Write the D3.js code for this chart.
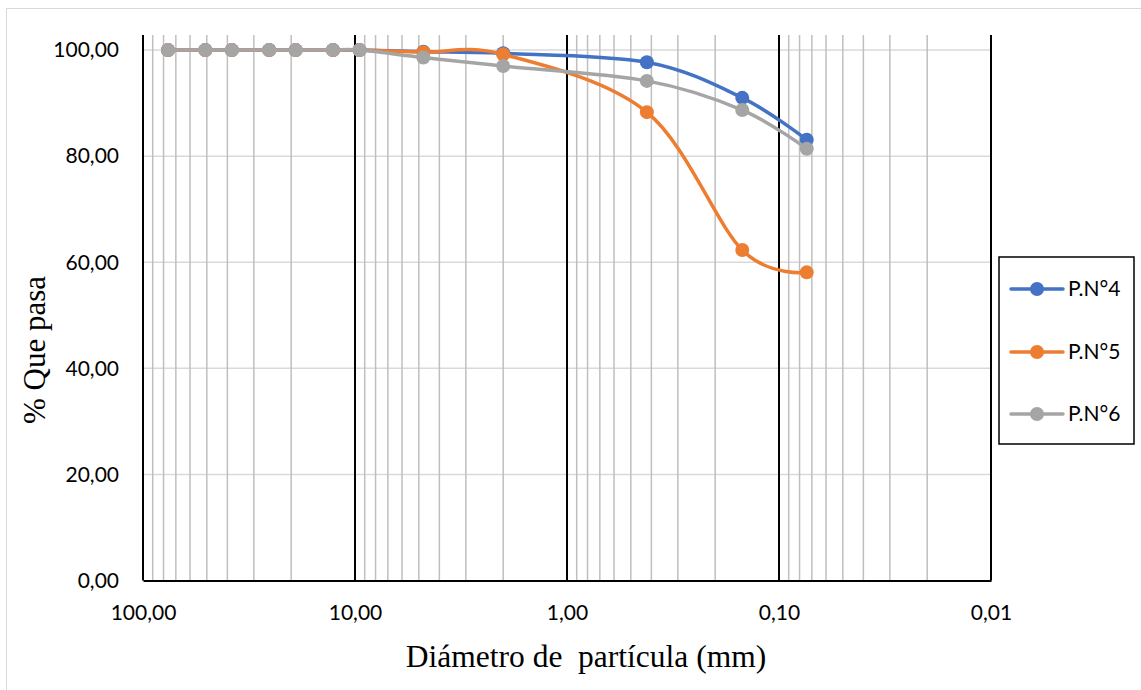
<!DOCTYPE html>
<html>
<head>
<meta charset="utf-8">
<script src="https://cdn.jsdelivr.net/npm/d3@7"></script>
<style>
  body { margin: 0; background: #fff; }
  svg { display: block; }
</style>
</head>
<body>
<svg id="drawing_region"></svg>
<script>
// tamices (mm)
const sizes = [76.2, 50.8, 38.1, 25.4, 19.05, 12.7, 9.525, 4.76, 2.0, 0.42, 0.149, 0.074];
const pn4 = [100, 100, 100, 100, 100, 100, 100, 99.7, 99.4, 97.7, 91.0, 83.1];
const pn5 = [100, 100, 100, 100, 100, 100, 100, 99.6, 99.2, 88.3, 62.3, 58.1];
const pn6 = [100, 100, 100, 100, 100, 100, 100, 98.6, 97.0, 94.2, 88.7, 81.4];
const seriesNames = ["P.N°4", "P.N°5", "P.N°6"];
const colors = ["#4472C4", "#ED7D31", "#A5A5A5"];
const xTicks = [100, 10, 1, 0.1, 0.01];
const yTicks = [0, 20, 40, 60, 80, 100];

const W = 1141, H = 690;
const svg = d3.select("#drawing_region").attr("width", W).attr("height", H);

const locale = d3.formatLocale({decimal: ",", thousands: ".", grouping: [3], currency: ["", ""]});
const fmt = locale.format(".2f");

const x = d3.scaleLog().domain([100, 0.01]).range([143, 991]);
const y = d3.scaleLinear().domain([0, 102.85]).range([580.5, 35]);

// marco exterior
svg.append("rect")
  .attr("x", 6.5).attr("y", 8.5).attr("width", 1300).attr("height", 900)
  .attr("fill", "none").attr("stroke", "#d9d9d9").attr("stroke-width", 1);

// rejilla horizontal
svg.append("g").selectAll("line")
  .data(yTicks.filter(d => d > 0))
  .join("line")
  .attr("x1", x(100)).attr("x2", x(0.01))
  .attr("y1", d => y(d)).attr("y2", d => y(d))
  .attr("stroke", "#d9d9d9").attr("stroke-width", 1.5);

// rejilla vertical menor
const minor = [];
[10, 1, 0.1, 0.01].forEach(dec => {
  for (let k = 2; k <= 9; k++) minor.push(dec * k);
});
svg.append("g").selectAll("line")
  .data(minor)
  .join("line")
  .attr("x1", d => x(d)).attr("x2", d => x(d))
  .attr("y1", y.range()[1]).attr("y2", y(0))
  .attr("stroke", "#bfbfbf").attr("stroke-width", 1.5);

// rejilla vertical mayor
svg.append("g").selectAll("line")
  .data(xTicks)
  .join("line")
  .attr("x1", d => x(d)).attr("x2", d => x(d))
  .attr("y1", y.range()[1]).attr("y2", y(0))
  .attr("stroke", "#000").attr("stroke-width", 2);

// eje x
const xAxis = d3.axisBottom(x).tickValues(xTicks).tickFormat(fmt).tickSize(0).tickPadding(25);
const gx = svg.append("g").attr("transform", `translate(0,${y(0)})`).call(xAxis);
gx.select(".domain").attr("stroke", "#000").attr("stroke-width", 2);
gx.selectAll("text").attr("font-family", "Lato, sans-serif").attr("font-size", 21).attr("fill", "#000");

// eje y
const yAxis = d3.axisLeft(y).tickValues(yTicks).tickFormat(fmt).tickSize(0).tickPadding(24);
const gy = svg.append("g").attr("transform", `translate(${x(100)},0)`).call(yAxis);
gy.select(".domain").remove();
gy.selectAll("text").attr("font-family", "Lato, sans-serif").attr("font-size", 21).attr("fill", "#000");

// series
const allSeries = [pn4, pn5, pn6];
const line = d3.line()
  .x(d => x(d[0])).y(d => y(d[1]))
  .curve(d3.curveCatmullRom.alpha(0));

allSeries.forEach((vals, i) => {
  const pts = sizes.map((s, j) => [s, vals[j]]);
  const g = svg.append("g");
  g.append("path")
    .attr("d", line(pts))
    .attr("fill", "none").attr("stroke", colors[i]).attr("stroke-width", 3.5)
    .attr("stroke-linejoin", "round").attr("stroke-linecap", "round");
  g.selectAll("circle")
    .data(pts)
    .join("circle")
    .attr("cx", d => x(d[0])).attr("cy", d => y(d[1]))
    .attr("r", 7).attr("fill", colors[i]);
});

// títulos de ejes
svg.append("text")
  .attr("x", 586).attr("y", 667)
  .attr("text-anchor", "middle")
  .attr("font-family", "'Liberation Serif', 'Times New Roman', serif")
  .attr("font-size", 31.5)
  .style("white-space", "pre")
  .text("Diámetro de  partícula (mm)");

svg.append("text")
  .attr("transform", "translate(45,350) rotate(-90)")
  .attr("text-anchor", "middle")
  .attr("font-family", "'Liberation Serif', 'Times New Roman', serif")
  .attr("font-size", 31)
  .text("% Que pasa");

// leyenda
const legend = svg.append("g");
legend.append("rect")
  .attr("x", 999).attr("y", 257).attr("width", 135).attr("height", 187)
  .attr("fill", "#fff").attr("stroke", "#000").attr("stroke-width", 1.5);
const legY = [289, 352, 414];
seriesNames.forEach((name, i) => {
  const row = legend.append("g").attr("transform", `translate(0,${legY[i]})`);
  row.append("line").attr("x1", 1011).attr("x2", 1063).attr("y1", 0).attr("y2", 0)
    .attr("stroke", colors[i]).attr("stroke-width", 3.5).attr("stroke-linecap", "round");
  row.append("circle").attr("cx", 1037).attr("cy", 0).attr("r", 7).attr("fill", colors[i]);
  row.append("text").attr("x", 1068).attr("y", 0).attr("dy", "0.35em")
    .attr("font-family", "Lato, sans-serif").attr("font-size", 21)
    .text(name);
});
</script>
</body>
</html>
